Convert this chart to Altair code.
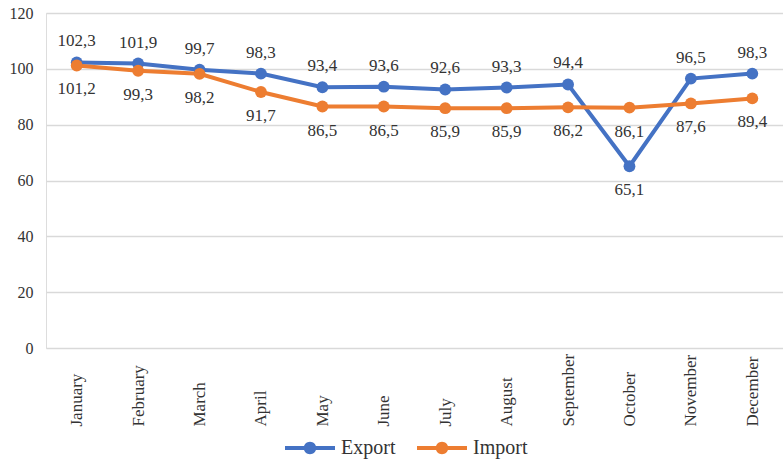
import altair as alt
import pandas as pd

months = ["January", "February", "March", "April", "May", "June", "July",
          "August", "September", "October", "November", "December"]
export_vals = [102.3, 101.9, 99.7, 98.3, 93.4, 93.6, 92.6, 93.3, 94.4, 65.1, 96.5, 98.3]
import_vals = [101.2, 99.3, 98.2, 91.7, 86.5, 86.5, 85.9, 85.9, 86.2, 86.1, 87.6, 89.4]
series = ["Export", "Import"]
colors = ["#4472C4", "#ED7D31"]

rows = []
for name, vals in zip(series, [export_vals, import_vals]):
    for m, v in zip(months, vals):
        rows.append({"month": m, "series": name, "value": v,
                     "label": f"{v:.1f}".replace(".", ",")})
df = pd.DataFrame(rows)

FONT = "Liberation Serif"
TXT = "#333333"

x = alt.X("month:N", sort=months, title=None,
          scale=alt.Scale(paddingOuter=0.5),
          axis=alt.Axis(labelAngle=-90, labelAlign="left", labelBaseline="middle",
                        labelPadding=78, labelFontSize=17, labelFont=FONT,
                        labelColor=TXT, ticks=False, domain=False, grid=False))
y = alt.Y("value:Q", title=None,
          scale=alt.Scale(domain=[0, 120], nice=False),
          axis=alt.Axis(values=[0, 20, 40, 60, 80, 100, 120], labelFontSize=16,
                        labelFont=FONT, labelColor=TXT, labelPadding=13,
                        ticks=False, domain=False, gridColor="#d9d9d9",
                        gridWidth=1.5))

# line with a dot in the middle, used as the legend swatch
legend_symbol = ("M-1,-0.08H1V0.08H-1Z "
                 "M0.25,0A0.25,0.25,0,1,1,-0.25,0A0.25,0.25,0,1,1,0.25,0Z")
legend = alt.Legend(orient="none", direction="horizontal",
                    legendX=239, legendY=410,
                    symbolType=legend_symbol, symbolSize=2500,
                    symbolStrokeWidth=0, labelFont=FONT,
                    labelFontSize=20, labelColor=TXT,
                    labelOffset=6, columnPadding=21, padding=0)
color = alt.Color("series:N", scale=alt.Scale(domain=series, range=colors),
                  title=None, legend=legend)

base = alt.Chart(df)

lines = base.mark_line(strokeWidth=4).encode(x=x, y=y, color=color)
points = base.mark_point(filled=True, size=140, opacity=1).encode(x=x, y=y, color=color)

text_style = dict(font=FONT, fontSize=17, color=TXT)

export_up = base.mark_text(dy=-21, **text_style).encode(
    x=x, y=y, text="label:N").transform_filter(
    "datum.series == 'Export' && datum.month != 'October'")
export_down = base.mark_text(dy=24, **text_style).encode(
    x=x, y=y, text="label:N").transform_filter(
    "datum.series == 'Export' && datum.month == 'October'")
import_down = base.mark_text(dy=24, **text_style).encode(
    x=x, y=y, text="label:N").transform_filter("datum.series == 'Import'")

chart = alt.layer(lines, points, export_up, export_down, import_down).properties(
    width=737, height=335,
    autosize=alt.AutoSizeParams(type="none"),
    padding={"left": 46, "top": 13, "right": 0, "bottom": 112},
).configure_view(stroke=None).configure(background="white", font=FONT)

chart.save("out.html", embed_options={"renderer": "svg", "actions": False})
